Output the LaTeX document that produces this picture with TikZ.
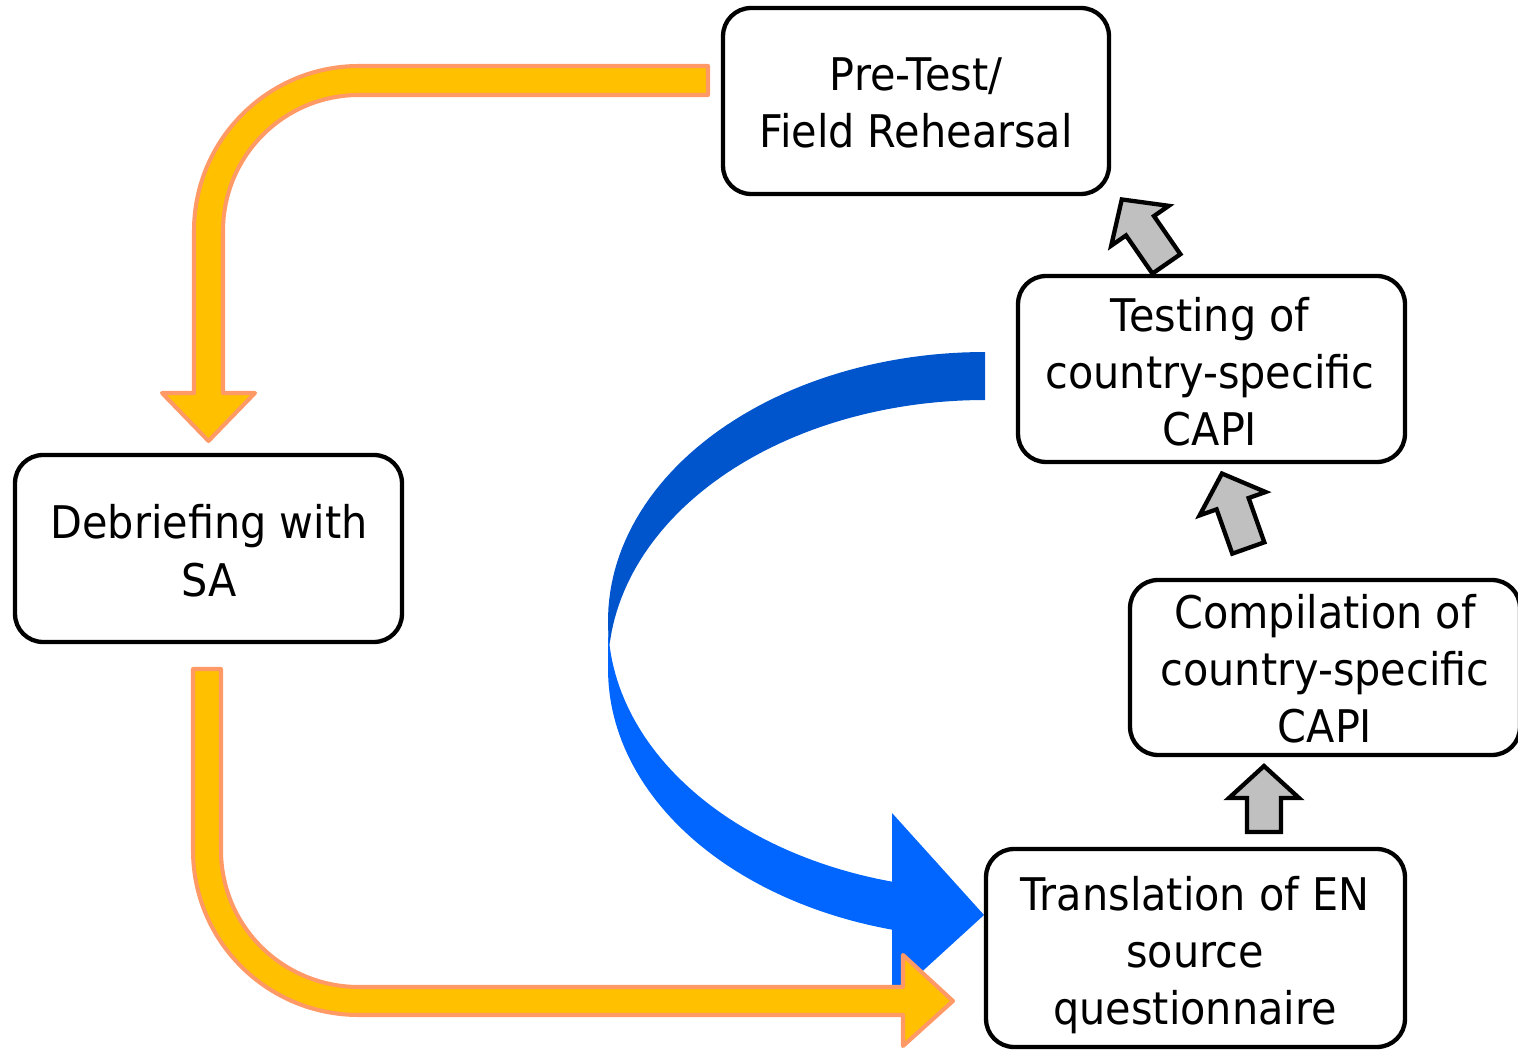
\documentclass[tikz,border=0pt]{standalone}
\usepackage{fontspec}
\setmainfont{DejaVu Sans}[FakeStretch=0.92]
\definecolor{orfill}{HTML}{FFC000}
\definecolor{orline}{HTML}{FF9966}
\definecolor{grayfill}{HTML}{C0C0C0}
\definecolor{bluedark}{HTML}{0055CC}
\definecolor{bluelight}{HTML}{0066FF}
\newcommand\grayblockarrow[4]{%
  \begin{scope}[shift={(#1,#2)}, rotate=#3]
    \draw[grayarrow] (-17,0) -- (-17,{-#4+32}) -- (-35,{-#4+32}) -- (0,-#4)
      -- (35,{-#4+32}) -- (17,{-#4+32}) -- (17,0) -- cycle;
  \end{scope}}
\begin{document}
\begin{tikzpicture}[x=0.02cm,y=-0.02cm,
  box/.style={draw, line width=2.45pt, rounded corners=15.9pt, fill=white, inner sep=0pt},
  lbl/.style={align=center, inner sep=0pt, font=\fontsize{25.6pt}{32.7pt}\selectfont},
  orangearrow/.style={fill=orfill, draw=orline, line width=2.3pt, line join=round},
  grayarrow/.style={fill=grayfill, draw=black, line width=2.45pt, line join=miter}]
\useasboundingbox (0,0) rectangle (1518,1050);

% blue curved arrow: front part
\fill[bluelight] plot[domain=0:75.72, samples=60] ({985+377*cos(180-\x)},{621+269*sin(180-\x)})
  -- (892,813) -- (984,915) -- (892,999)
  -- plot[domain=0:75.72, samples=60] ({985+377*cos(104.28+\x)},{669+269*sin(104.28+\x)}) -- cycle;
% blue curved arrow: back part
\fill[bluedark] plot[domain=0:84.88, samples=60] ({985+377*cos(270-\x)},{669+269*sin(270-\x)})
  -- plot[domain=0:95.12, samples=60] ({985+377*cos(174.88+\x)},{621+269*sin(174.88+\x)}) -- cycle;

% orange arrows
\draw[orangearrow] (708,66) -- (359,66) .. controls (267.9,66) and (194,139.9) .. (194,231)
  -- (194,393) -- (162,393) -- (208.5,441) -- (255,393) -- (223,393) -- (223,231)
  .. controls (223,155.9) and (283.9,95) .. (359,95) -- (708,95) -- cycle;
\draw[orangearrow] (193,669) -- (193,850) .. controls (193,941.7) and (267.3,1015) .. (359,1015)
  -- (903,1015) -- (903,1046) -- (953,1001) -- (903,955) -- (903,987) -- (359,987)
  .. controls (282.8,987) and (221,926.2) .. (221,850) -- (221,669) -- cycle;

% boxes
\node[box, minimum width=7.72cm, minimum height=3.72cm] (pretest) at (916,101) {};
\node[box, minimum width=7.74cm, minimum height=3.72cm] (testing) at (1211.5,369) {};
\node[box, minimum width=7.8cm, minimum height=3.5cm] (compil) at (1325,667.5) {};
\node[box, minimum width=7.74cm, minimum height=3.74cm] (debrief) at (208.5,548.5) {};
\node[box, minimum width=8.38cm, minimum height=3.96cm] (transl) at (1195.5,948) {};

% labels
\node[lbl] (pretestT) at (916,107.25) {\strut Pre-Test/\\ \strut Field Rehearsal};
\node[lbl] (testingT) at (1210,377) {\strut Testing of\\ \strut country-specific\\ \strut CAPI};
\node[lbl] (compilT) at (1325,674) {\strut Compilation of\\ \strut country-specific\\ \strut CAPI};
\node[lbl] (debriefT) at (209,556) {\strut Debriefing with\\ \strut SA};
\node[lbl] (translT) at (1195,956) {\strut Translation of EN\\ \strut source\\ \strut questionnaire};

% gray block arrows
\grayblockarrow{1264}{832}{0}{66}
\grayblockarrow{1248.3}{548}{19.5}{79}
\grayblockarrow{1166.4}{263.9}{34.7}{78.4}
\end{tikzpicture}
\end{document}
